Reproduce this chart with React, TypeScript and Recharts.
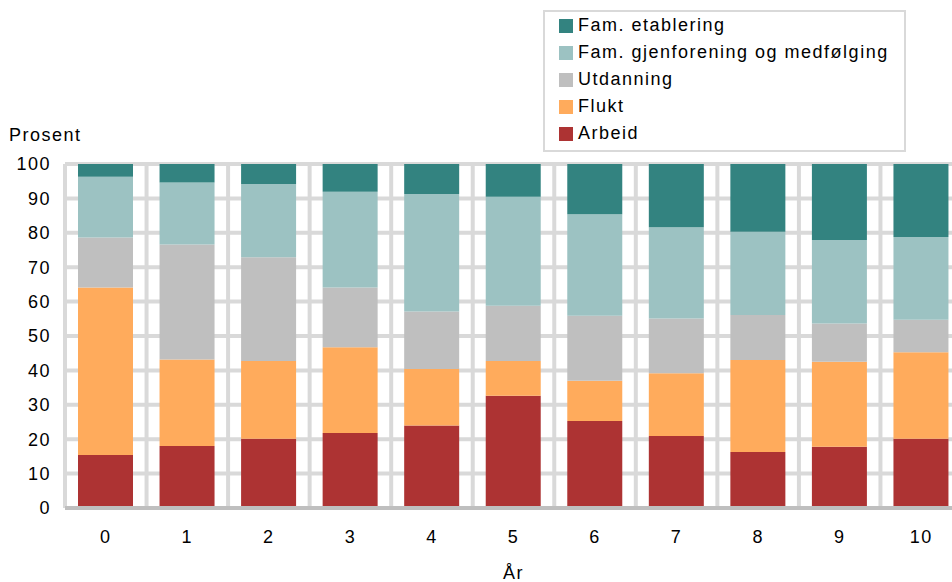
import { Bar, BarChart, CartesianGrid, Legend, XAxis, YAxis } from 'recharts';

const years = ['0', '1', '2', '3', '4', '5', '6', '7', '8', '9', '10'];

const arbeid = [15.4, 18.0, 20.1, 21.8, 24.0, 32.6, 25.3, 20.9, 16.3, 17.8, 20.1];
const flukt = [48.7, 25.2, 22.6, 24.9, 16.4, 10.1, 11.7, 18.3, 26.7, 24.7, 25.2];
const utdanning = [14.5, 33.4, 30.2, 17.4, 16.7, 16.1, 18.9, 15.9, 13.1, 11.1, 9.4];
const gjenforening = [17.7, 18.0, 21.3, 27.8, 34.2, 31.7, 29.5, 26.5, 24.2, 24.3, 24.1];
const etablering = [3.7, 5.4, 5.8, 8.1, 8.7, 9.5, 14.6, 18.4, 19.7, 22.1, 21.2];

const yTicks = [0, 10, 20, 30, 40, 50, 60, 70, 80, 90, 100];

const series = [
  { key: 'arbeid', name: 'Arbeid', color: '#AD3333', values: arbeid },
  { key: 'flukt', name: 'Flukt', color: '#FFAB5C', values: flukt },
  { key: 'utdanning', name: 'Utdanning', color: '#BFBFBF', values: utdanning },
  { key: 'gjenforening', name: 'Fam. gjenforening og medfølging', color: '#9CC2C2', values: gjenforening },
  { key: 'etablering', name: 'Fam. etablering', color: '#338380', values: etablering },
];

const FONT = '"Liberation Sans", Arial, sans-serif';
const SPACING = 1.5;

const data = years.map((year, i) => {
  const row: Record<string, string | number> = { year };
  series.forEach((s) => {
    row[s.key] = s.values[i];
  });
  return row;
});

// legend goes top-down: last stacked series first
function LegendBox({ payload }: any) {
  const items = [...(payload || [])].sort(
    (a: any, b: any) =>
      series.findIndex((s) => s.name === b.value) - series.findIndex((s) => s.name === a.value)
  );
  return (
    <div
      style={{
        width: 363,
        boxSizing: 'border-box',
        border: '2px solid #D9D9D9',
        background: '#fff',
        padding: '0 0 3px 14px',
        fontFamily: FONT,
        fontSize: 18,
        letterSpacing: SPACING,
        color: '#000',
      }}
    >
      {items.map((item: any) => (
        <div key={item.value} style={{ height: 27, display: 'flex', alignItems: 'center' }}>
          <span
            style={{
              display: 'inline-block',
              width: 14,
              height: 14,
              background: item.color,
              marginRight: 5,
            }}
          />
          <span>{item.value}</span>
        </div>
      ))}
    </div>
  );
}

const tickStyle = { fill: '#000', fontSize: 18, fontFamily: FONT, style: { letterSpacing: SPACING } };

export default function App() {
  return (
    <div
      style={{
        position: 'fixed',
        left: 0,
        top: 0,
        width: 952,
        height: 582,
        overflow: 'hidden',
        background: '#fff',
      }}
    >
      <BarChart
        width={962}
        height={582}
        data={data}
        margin={{ top: 164, right: 0, bottom: 0, left: 0 }}
        barSize={55}
      >
        <CartesianGrid
          stroke="#D9D9D9"
          strokeWidth={4}
          verticalCoordinatesGenerator={({ offset }: any) =>
            Array.from({ length: years.length + 1 }, (_, i) => offset.left + (i * offset.width) / years.length)
          }
        />
        <XAxis
          dataKey="year"
          height={74}
          tickLine={false}
          tickSize={0}
          tickMargin={22}
          axisLine={{ stroke: '#BFBFBF', strokeWidth: 4 }}
          tick={tickStyle}
          label={{
            value: 'År',
            position: 'insideBottom',
            offset: 3,
            fill: '#000',
            fontSize: 18,
            fontFamily: FONT,
            style: { letterSpacing: SPACING },
          }}
        />
        <YAxis
          width={65}
          domain={[0, 100]}
          ticks={yTicks}
          interval={0}
          axisLine={false}
          tickLine={false}
          tickSize={0}
          tickMargin={14}
          tick={tickStyle}
          label={{
            content: () => (
              <text x={9} y={141} fill="#000" fontSize={18} fontFamily={FONT} style={{ letterSpacing: SPACING }}>
                Prosent
              </text>
            ),
          }}
        />
        <Legend
          layout="vertical"
          align="center"
          verticalAlign="middle"
          wrapperStyle={{ position: 'absolute', left: 543, top: 10, width: 363 }}
          content={LegendBox}
        />
        {series.map((s) => (
          <Bar key={s.key} dataKey={s.key} name={s.name} stackId="a" fill={s.color} isAnimationActive={false} />
        ))}
      </BarChart>
    </div>
  );
}
